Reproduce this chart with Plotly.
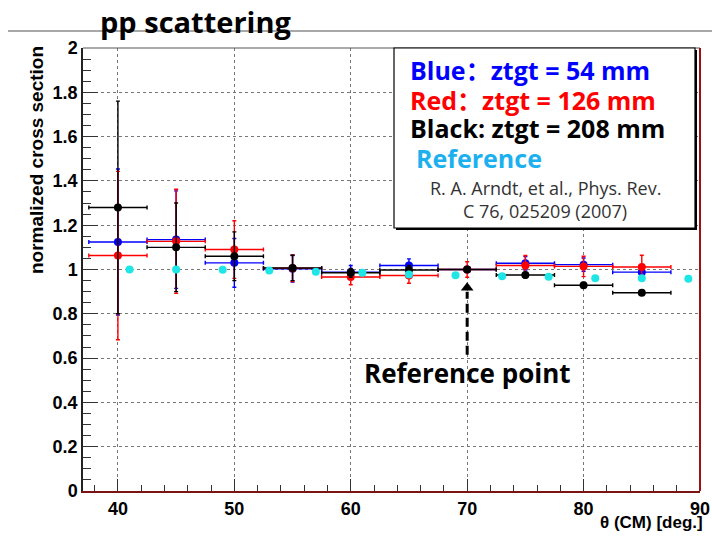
import plotly.graph_objects as go

# ---- data ----
theta = [40, 45, 50, 55, 60, 65, 70, 75, 80, 85]
theta_err = [2.5, 2.5, 2.5, 2.5, 2.5, 2.5, 2.5, 2.5, 2.5, 2.5]

blue_y = [1.124, 1.135, 1.03, 1.003, 0.988, 1.018, 1.0, 1.028, 1.022, 0.988]
blue_err = [0.33, 0.22, 0.11, 0.06, 0.03, 0.03, 0.0, 0.03, 0.03, 0.03]

red_y = [1.063, 1.127, 1.09, 1.006, 0.966, 0.973, 1.0, 1.018, 1.014, 1.011]
red_err = [0.38, 0.235, 0.13, 0.06, 0.035, 0.035, 0.035, 0.045, 0.046, 0.053]

black_y = [1.28, 1.10, 1.06, 1.007, 0.985, 0.998, 1.0, 0.975, 0.929, 0.895]
black_err = [0.48, 0.20, 0.11, 0.057, 0.02, 0.02, 0.0, 0.012, 0.012, 0.012]

ref_theta = [41, 45, 49, 53, 57, 61, 65, 69, 73, 77, 81, 85, 89]
ref_y = [1.0, 1.0, 0.999, 0.995, 0.99, 0.985, 0.977, 0.974, 0.97, 0.967, 0.96, 0.96, 0.958]

REF_X = 70
x_ticks = [40, 50, 60, 70, 80, 90]
y_ticks = [0, 0.2, 0.4, 0.6, 0.8, 1, 1.2, 1.4, 1.6, 1.8, 2]
y_ticktext = ["0", "0.2", "0.4", "0.6", "0.8", "1", "1.2", "1.4", "1.6", "1.8", "2"]

BLUE = "#0000ff"
RED = "#ff0000"
BLACK = "#000000"
CYAN = "#1ee6e6"
TXT_FONT = "Open Sans, Noto Sans CJK SC"


def series(y, err, color):
    return go.Scatter(
        x=theta, y=y, mode="markers",
        marker=dict(color=color, size=8),
        error_x=dict(type="data", array=theta_err, color=color, thickness=1.4, width=2),
        error_y=dict(type="data", array=err, color=color, thickness=1.4, width=2),
        showlegend=False, hoverinfo="skip",
    )


fig = go.Figure()
fig.add_trace(series(blue_y, blue_err, BLUE))
fig.add_trace(series(red_y, red_err, RED))
fig.add_trace(series(black_y, black_err, BLACK))
fig.add_trace(go.Scatter(x=ref_theta, y=ref_y, mode="markers",
                         marker=dict(color=CYAN, size=8), showlegend=False))
# arrow head of "Reference point"
fig.add_trace(go.Scatter(x=[REF_X], y=[0.918], mode="markers",
                         marker=dict(symbol="triangle-up", size=11, color=BLACK),
                         showlegend=False))

# ---- plot geometry helpers ----
L, R, T, B = 83, 12, 48, 52
W, H = 712, 543
PW, PH = W - L - R, H - T - B


def px(xp):
    return (xp - L) / PW


def py(yp):
    return (H - B - yp) / PH


fig.update_layout(
    width=W, height=H,
    margin=dict(l=L, r=R, t=T, b=B, autoexpand=False),
    paper_bgcolor="white", plot_bgcolor="white",
    xaxis=dict(
        range=[37, 90], tickvals=x_ticks, automargin=False,
        ticks="inside", ticklen=12, tickwidth=1.3, tickcolor="#333",
        minor=dict(dtick=2, tick0=0, ticks="inside", ticklen=6, tickcolor="#333", showgrid=False),
        showgrid=True, gridcolor="#777", griddash="dot", gridwidth=1,
        showline=True, linecolor="#7a1414", linewidth=2,
        zeroline=False, ticklabelstandoff=0,
        tickfont=dict(family="Liberation Sans", size=18, color="black", weight="bold"),
    ),
    yaxis=dict(
        range=[0, 2], tickvals=y_ticks, ticktext=y_ticktext, automargin=False,
        ticks="inside", ticklen=15, tickwidth=1.3, tickcolor="#333",
        minor=dict(dtick=0.05, ticks="inside", ticklen=8, tickcolor="#333", showgrid=False),
        showgrid=True, gridcolor="#777", griddash="dot", gridwidth=1,
        showline=True, linecolor="#222", linewidth=1.5,
        zeroline=False, ticklabelstandoff=0,
        tickfont=dict(family="Liberation Sans", size=18, color="black", weight="bold"),
    ),
)

shapes = [
    # slide title separator line
    dict(type="line", xref="paper", yref="paper", x0=px(8), x1=px(712), y0=py(31), y1=py(31),
         line=dict(color="#a8a8a8", width=2)),
    # frame top and right
    dict(type="line", xref="paper", yref="paper", x0=0, x1=1, y0=1, y1=1,
         line=dict(color="#555", width=1)),
    dict(type="line", xref="paper", yref="paper", x0=1, x1=1, y0=0, y1=1,
         line=dict(color="#a01010", width=2)),
    # legend box shadow + box
    dict(type="rect", xref="paper", yref="paper", x0=px(396), x1=px(697), y0=py(230), y1=py(50),
         fillcolor="black", line=dict(width=0), layer="above"),
    dict(type="rect", xref="paper", yref="paper", x0=px(394), x1=px(695), y0=py(228), y1=py(48),
         fillcolor="white", line=dict(color="black", width=1.2), layer="above"),
    # dashed arrow shaft
    dict(type="line", xref="x", yref="y", x0=REF_X, x1=REF_X, y0=0.615, y1=0.90,
         line=dict(color="black", width=3, dash="9px,5px")),
]
fig.update_layout(shapes=shapes)

ann = [
    dict(text="<b>pp scattering</b>", x=px(98), y=py(22), xanchor="left", yanchor="middle",
         font=dict(family=TXT_FONT, size=29, color="black")),
    dict(text="<b>normalized cross section</b>", x=px(36), y=py(160), textangle=-90,
         xanchor="center", yanchor="middle",
         font=dict(family="Liberation Sans", size=19, color="black")),
    dict(text="<b>θ (CM) [deg.]</b>", x=px(705), y=py(522), xanchor="right", yanchor="middle",
         font=dict(family="Liberation Sans", size=17, color="black")),
    dict(text="<b>Blue：ztgt = 54 mm</b>", x=px(408), y=py(70), xanchor="left", yanchor="middle",
         font=dict(family=TXT_FONT, size=25, color=BLUE)),
    dict(text="<b>Red：ztgt = 126 mm</b>", x=px(408), y=py(100), xanchor="left", yanchor="middle",
         font=dict(family=TXT_FONT, size=25, color=RED)),
    dict(text="<b>Black: ztgt = 208 mm</b>", x=px(408), y=py(128), xanchor="left", yanchor="middle",
         font=dict(family=TXT_FONT, size=25, color=BLACK)),
    dict(text="<b>Reference</b>", x=px(414), y=py(158), xanchor="left", yanchor="middle",
         font=dict(family=TXT_FONT, size=25, color="#1cb0ef")),
    dict(text="R. A. Arndt, et al., Phys. Rev.", x=px(545), y=py(188), xanchor="center", yanchor="middle",
         font=dict(family=TXT_FONT, size=18, color="#333")),
    dict(text="C 76, 025209 (2007)", x=px(545), y=py(211), xanchor="center", yanchor="middle",
         font=dict(family=TXT_FONT, size=18, color="#333")),
    dict(text="<b>Reference point</b>", x=REF_X, y=0.535, xref="x", yref="y",
         xanchor="center", yanchor="middle",
         font=dict(family=TXT_FONT, size=26, color="black")),
]
for a in ann:
    a.setdefault("xref", "paper")
    a.setdefault("yref", "paper")
    a["showarrow"] = False
fig.update_layout(annotations=ann)

fig.write_html("out.html",
               config={"displayModeBar": False},
               post_script="document.body.style.margin='0';document.body.style.overflow='hidden';")
